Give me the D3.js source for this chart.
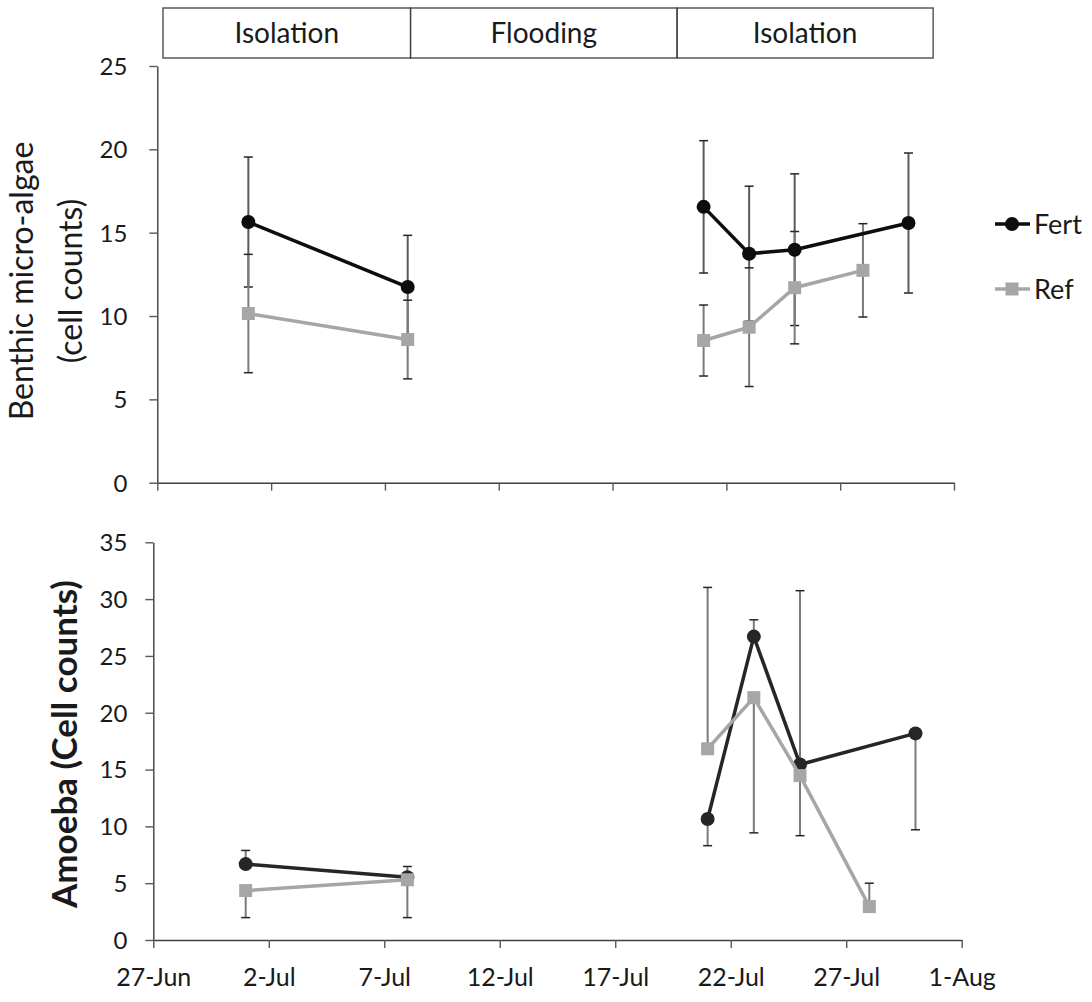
<!DOCTYPE html>
<html>
<head>
<meta charset="utf-8">
<script src="https://cdn.jsdelivr.net/npm/d3@7"></script>
<style>
  body { margin: 0; background: #fff; }
  svg text { font-family: Lato, "Open Sans", sans-serif; fill: #1a1a1a; }
</style>
</head>
<body>
<script>
//date helpers
var parseDate = d3.timeParse("%d-%b-%Y");
var toDate = function(s) { return parseDate(s + "-2013"); };

//x axis tick labels (every 5 days)
var tickLabels = ["27-Jun", "2-Jul", "7-Jul", "12-Jul", "17-Jul", "22-Jul", "27-Jul", "1-Aug"];

//phase boxes on top, bounds in days after 27-Jun
var phaseNames = ["Isolation", "Flooding", "Isolation"];
var phaseBounds = [0.25, 11.15, 22.85, 34.1];

//sampling dates
var fertDates = ["1-Jul", "8-Jul", "21-Jul", "23-Jul", "25-Jul", "30-Jul"];
var refDates  = ["1-Jul", "8-Jul", "21-Jul", "23-Jul", "25-Jul", "28-Jul"];

//benthic micro-algae (cell counts), mean and +/- error
var algaeFert    = [15.64, 11.74, 16.55, 13.74, 13.98, 15.58];
var algaeFertErr = [3.9, 3.1, 3.97, 4.05, 4.55, 4.2];
var algaeRef     = [10.15, 8.59, 8.53, 9.33, 11.7, 12.74];
var algaeRefErr  = [3.55, 2.36, 2.13, 3.56, 3.37, 2.8];

//amoeba (cell counts), mean with separate plus / minus error
var amoebaFert      = [6.68, 5.53, 10.65, 26.7, 15.44, 18.18];
var amoebaFertPlus  = [1.2, 0.94, 0, 1.48, 15.3, 0];
var amoebaFertMinus = [0, 0, 2.35, 0, 0, 8.48];
var amoebaRef       = [4.35, 5.3, 16.83, 21.33, 14.47, 2.94];
var amoebaRefPlus   = [0, 0, 14.2, 0, 0, 2.06];
var amoebaRefMinus  = [2.38, 3.33, 0, 11.9, 5.29, 0];

var algaeTicks  = [0, 5, 10, 15, 20, 25];
var amoebaTicks = [0, 5, 10, 15, 20, 25, 30, 35];

var tickDates = tickLabels.map(toDate);
var startDate = tickDates[0], endDate = tickDates[tickDates.length - 1];

var svg = d3.select("body").append("svg")
    .attr("width", 1092)
    .attr("height", 1002);

//build point lists for a series
function makeSeries(dates, vals, plus, minus) {
    return dates.map(function(d, i) {
        return { date: toDate(d), v: vals[i], up: plus[i], dn: minus[i] };
    });
}

//split points into connected runs (no line across the flooding gap)
function splitRuns(pts) {
    var runs = [[pts[0]]];
    for (var i = 1; i < pts.length; i++) {
        if ((pts[i].date - pts[i - 1].date) / 864e5 > 10) runs.push([]);
        runs[runs.length - 1].push(pts[i]);
    }
    return runs;
}

function drawPanel(p) {
    var x = d3.scaleTime().domain([startDate, endDate]).range([p.left, p.right]);
    var y = d3.scaleLinear().domain([0, p.yMax]).range([p.bottom, p.top]);

    var g = svg.append("g");

    //y axis
    var yAxis = g.append("g")
        .attr("transform", "translate(" + p.left + ",0)")
        .call(d3.axisLeft(y).tickValues(p.yTicks).tickSize(8).tickSizeOuter(0).tickPadding(p.yPad));
    yAxis.selectAll("text").style("font-size", "24px").attr("dy", "0.35em");

    //x axis
    var xAxis = g.append("g")
        .attr("transform", "translate(0," + p.bottom + ")")
        .call(d3.axisBottom(x).tickValues(tickDates).tickSize(8).tickSizeOuter(0)
            .tickFormat(d3.timeFormat("%-d-%b")).tickPadding(20));
    xAxis.selectAll("text").style("font-size", "25px").attr("dy", "0.71em");
    if (!p.xLabels) xAxis.selectAll("text").remove();

    g.selectAll(".domain").attr("stroke", "#404040").attr("stroke-width", 1.4);
    g.selectAll(".tick line").attr("stroke", "#595959").attr("stroke-width", 1.4);

    //error bars
    p.series.forEach(function(s) {
        var bars = g.append("g");
        s.pts.forEach(function(d) {
            [[d.up, 1], [d.dn, -1]].forEach(function(e) {
                if (!e[0]) return;
                var y1 = y(d.v + e[1] * e[0]);
                bars.append("line")
                    .attr("x1", x(d.date)).attr("x2", x(d.date))
                    .attr("y1", y(d.v)).attr("y2", y1)
                    .attr("stroke", s.errColor).attr("stroke-width", 2);
                bars.append("line")
                    .attr("x1", x(d.date) - 4.5).attr("x2", x(d.date) + 4.5)
                    .attr("y1", y1).attr("y2", y1)
                    .attr("stroke", "#262626").attr("stroke-width", 1.5);
            });
        });
    });

    //lines + markers
    var line = d3.line().x(function(d) { return x(d.date); }).y(function(d) { return y(d.v); });
    p.series.forEach(function(s) {
        g.selectAll(null)
            .data(splitRuns(s.pts))
            .enter().append("path")
            .attr("d", line)
            .attr("fill", "none")
            .attr("stroke", s.color)
            .attr("stroke-width", 3.5);
        if (s.shape === "circle") {
            g.selectAll(null).data(s.pts).enter().append("circle")
                .attr("cx", function(d) { return x(d.date); })
                .attr("cy", function(d) { return y(d.v); })
                .attr("r", 7)
                .attr("fill", s.color);
        } else {
            g.selectAll(null).data(s.pts).enter().append("rect")
                .attr("x", function(d) { return x(d.date) - 6.5; })
                .attr("y", function(d) { return y(d.v) - 6.5; })
                .attr("width", 13).attr("height", 13)
                .attr("fill", s.color);
        }
    });

    return x;
}

//top panel: benthic micro-algae
var xTop = drawPanel({
    left: 157.3, right: 954, top: 66, bottom: 482.7, yMax: 25, yTicks: algaeTicks, yPad: 22, xLabels: false,
    series: [
        { pts: makeSeries(fertDates, algaeFert, algaeFertErr, algaeFertErr), color: "#0d0d0d", errColor: "#5a5a5a", shape: "circle" },
        { pts: makeSeries(refDates, algaeRef, algaeRefErr, algaeRefErr), color: "#a6a6a6", errColor: "#7a7a7a", shape: "square" }
    ]
});

//bottom panel: amoeba
drawPanel({
    left: 153.3, right: 961.7, top: 542.3, bottom: 940, yMax: 35, yTicks: amoebaTicks, yPad: 18, xLabels: true,
    series: [
        { pts: makeSeries(fertDates, amoebaFert, amoebaFertPlus, amoebaFertMinus), color: "#262626", errColor: "#7a7a7a", shape: "circle" },
        { pts: makeSeries(refDates, amoebaRef, amoebaRefPlus, amoebaRefMinus), color: "#a6a6a6", errColor: "#7a7a7a", shape: "square" }
    ]
});

//phase boxes
var dayX = function(dd) { return xTop(d3.timeHour.offset(startDate, dd * 24)); };
var phases = svg.append("g");
phaseNames.forEach(function(name, i) {
    var x0 = dayX(phaseBounds[i]), x1 = dayX(phaseBounds[i + 1]);
    phases.append("rect")
        .attr("x", x0).attr("y", 8)
        .attr("width", x1 - x0).attr("height", 50)
        .attr("fill", "none")
        .attr("stroke", "#404040")
        .attr("stroke-width", 1.3);
    phases.append("text")
        .attr("x", (x0 + x1) / 2).attr("y", 43)
        .attr("text-anchor", "middle")
        .style("font-size", "28px")
        .text(name);
});

//axis titles
var t1 = svg.append("text")
    .attr("transform", "translate(33,281) rotate(-90)")
    .attr("text-anchor", "middle")
    .style("font-size", "32px");
t1.append("tspan").attr("x", 0).attr("y", 0).text("Benthic micro-algae");
t1.append("tspan").attr("x", 0).attr("y", 49).text("(cell counts)");

svg.append("text")
    .attr("transform", "translate(77,744) rotate(-90)")
    .attr("text-anchor", "middle")
    .style("font-size", "35px")
    .style("font-weight", "bold")
    .text("Amoeba (Cell counts)");

//legend
var legendItems = [
    { name: "Fert", color: "#0d0d0d", shape: "circle", y: 224 },
    { name: "Ref", color: "#a6a6a6", shape: "square", y: 289 }
];
var legend = svg.append("g");
legendItems.forEach(function(d) {
    legend.append("line")
        .attr("x1", 995).attr("x2", 1030)
        .attr("y1", d.y).attr("y2", d.y)
        .attr("stroke", d.color).attr("stroke-width", 3.5);
    if (d.shape === "circle") {
        legend.append("circle").attr("cx", 1012).attr("cy", d.y).attr("r", 7).attr("fill", d.color);
    } else {
        legend.append("rect").attr("x", 1005.5).attr("y", d.y - 6.5).attr("width", 13).attr("height", 13).attr("fill", d.color);
    }
    legend.append("text")
        .attr("x", 1034).attr("y", d.y + 10)
        .style("font-size", "27px")
        .text(d.name);
});
</script>
</body>
</html>
